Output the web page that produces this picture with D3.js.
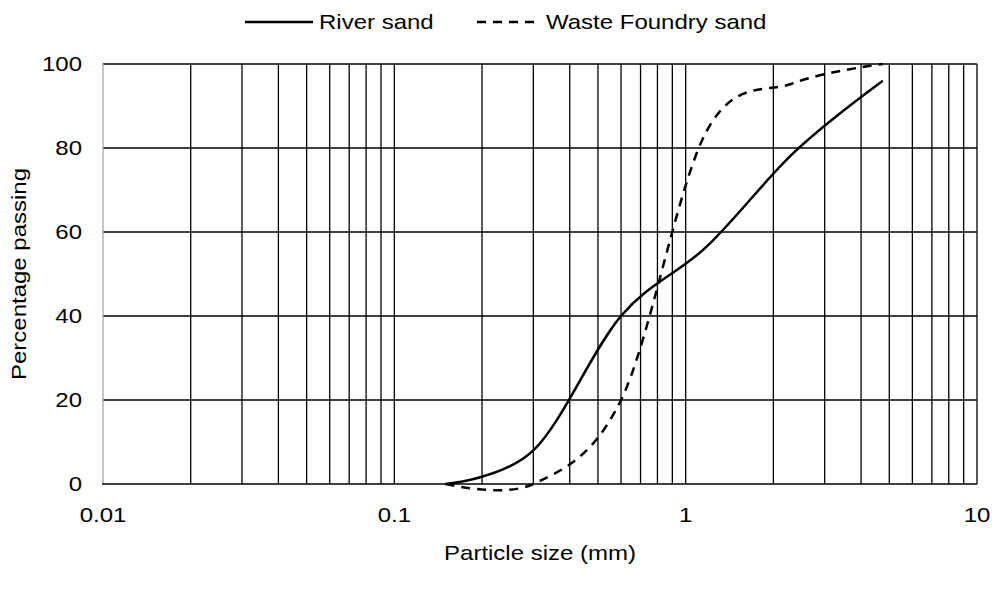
<!DOCTYPE html>
<html>
<head>
<meta charset="utf-8">
<script src="https://cdn.jsdelivr.net/npm/d3@7"></script>
<style>
  body { margin: 0; background: #fff; }
  text { font-family: Arial, "Liberation Sans", sans-serif; fill: #000; font-size: 20px; }
</style>
</head>
<body>
<div id="content"></div>
<script>
// sieve sizes (mm) and percentage passing
const sieve_sizes = [0.15, 0.3, 0.6, 1.18, 2.36, 4.75];
const river_sand = [0, 8, 40, 56.5, 79, 96];
const foundry_sand = [0, 0, 20, 84, 95.5, 100];
const y_ticks = [0, 20, 40, 60, 80, 100];
const x_labels = [0.01, 0.1, 1, 10];

const width = 995, height = 589;
const margin = {left: 103, right: 18, top: 64, bottom: 105};
const text_stretch = 1.2;   // text in the picture is a bit wide

const svg = d3.select("#content")
    .append("svg")
    .attr("width", width)
    .attr("height", height);

const x = d3.scaleLog()
    .domain([0.01, 10])
    .range([margin.left, width - margin.right]);

const y = d3.scaleLinear()
    .domain([0, 100])
    .range([height - margin.bottom, margin.top]);

// text with a horizontal stretch, optional rotation
function add_text(parent, tx, ty, str, anchor, rot) {
    return parent.append("text")
        .attr("transform", "translate(" + tx + "," + ty + ")" +
              (rot ? " rotate(" + rot + ")" : "") +
              " scale(" + text_stretch + ",1)")
        .attr("text-anchor", anchor)
        .text(str);
}

// minor + major vertical grid (1..9 per decade)
var grid_x = [];
for (var d = 0.01; d < 10; d *= 10) {
    for (var k = 1; k < 10; k++) grid_x.push(+(d * k).toPrecision(3));
}
grid_x.push(10);

svg.append("g")
    .selectAll("line")
    .data(grid_x.slice(1))
    .join("line")
    .attr("x1", d => x(d))
    .attr("x2", d => x(d))
    .attr("y1", y(0))
    .attr("y2", y(100))
    .attr("stroke", "#000")
    .attr("stroke-width", 1.3);

svg.append("g")
    .selectAll("line")
    .data(y_ticks.slice(1))
    .join("line")
    .attr("x1", x(0.01))
    .attr("x2", x(10))
    .attr("y1", d => y(d))
    .attr("y2", d => y(d))
    .attr("stroke", "#000")
    .attr("stroke-width", 1.3);

// left axis line is grey, bottom one black
svg.append("line")
    .attr("x1", x(0.01)).attr("x2", x(0.01))
    .attr("y1", y(0)).attr("y2", y(100))
    .attr("stroke", "#a6a6a6")
    .attr("stroke-width", 1.3);

svg.append("line")
    .attr("x1", x(0.01) - 1).attr("x2", x(10))
    .attr("y1", y(0)).attr("y2", y(0))
    .attr("stroke", "#000")
    .attr("stroke-width", 1.5);

// tick labels
var ylab = svg.append("g");
y_ticks.forEach(function (t) {
    add_text(ylab, x(0.01) - 21, y(t) + 7, t, "end");
});

var xlab = svg.append("g");
x_labels.forEach(function (t) {
    add_text(xlab, x(t), y(0) + 38, t, "middle");
});

// axis titles
add_text(svg, (x(0.01) + x(10)) / 2, 560, "Particle size (mm)", "middle");
add_text(svg, 26, (y(0) + y(100)) / 2, "Percentage passing", "middle", -90);

// curves (excel-like smoothing)
const line = d3.line()
    .x((d, i) => x(sieve_sizes[i]))
    .y(d => y(d))
    .curve(d3.curveCardinal.tension(0));

svg.append("path")
    .datum(river_sand)
    .attr("d", line)
    .attr("fill", "none")
    .attr("stroke", "#000")
    .attr("stroke-width", 2.5);

svg.append("path")
    .datum(foundry_sand)
    .attr("d", line)
    .attr("fill", "none")
    .attr("stroke", "#000")
    .attr("stroke-width", 2.5)
    .attr("stroke-dasharray", "9,7");

// legend
var legend = svg.append("g");
legend.append("line")
    .attr("x1", 245).attr("x2", 313)
    .attr("y1", 22).attr("y2", 22)
    .attr("stroke", "#000")
    .attr("stroke-width", 2.5);
add_text(legend, 319, 29, "River sand", "start");
legend.append("line")
    .attr("x1", 477).attr("x2", 540)
    .attr("y1", 22).attr("y2", 22)
    .attr("stroke", "#000")
    .attr("stroke-width", 2.5)
    .attr("stroke-dasharray", "9,7");
add_text(legend, 546, 29, "Waste Foundry sand", "start");
</script>
</body>
</html>
